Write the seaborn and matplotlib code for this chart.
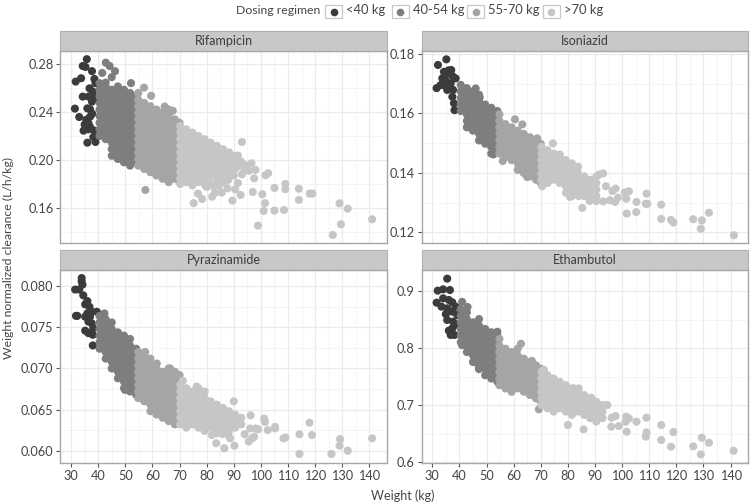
import pandas as pd
import seaborn as sns
import matplotlib.pyplot as plt
from matplotlib.patches import Rectangle
from matplotlib.lines import Line2D

drugs = ['Rifampicin', 'Isoniazid', 'Pyrazinamide', 'Ethambutol']
regimens = ['<40 kg', '40-54 kg', '55-70 kg', '>70 kg']
greys = ['#3b3b3b', '#7e7e7e', '#a5a5a5', '#c6c6c6']

# clearance values, one list per weight column
rif_columns = {
    40.5: [.22, .2255, .231, .2365, .242, .2475, .253, .2585, .264],
    42.75: [.2173, .2228, .2283, .2338, .2393, .2448, .2503, .2558, .2613, .2645],
    45: [.2035, .209, .2145, .22, .2255, .231, .2365, .242, .2475, .253, .2585],
    47.25: [.2008, .2063, .2118, .2173, .2228, .2283, .2338, .2393, .2448, .2503, .2558, .2613],
    49.5: [.198, .2035, .209, .2145, .22, .2255, .231, .2365, .242, .2475, .253, .2585],
    51.75: [.1953, .2008, .2063, .2118, .2173, .2228, .2283, .2338, .2393, .2448, .2503, .2558],
    54: [.198, .2035, .209, .2145, .22, .2255, .231, .2365, .242, .2475, .253],
    54.75: [.1953, .2008, .2063, .2118, .2173, .2228, .2283, .2338, .2393, .2448, .2503, .2558],
    57: [.1925, .198, .2035, .209, .2145, .22, .2255, .231, .2365, .242, .2475],
    59.25: [.1898, .1953, .2008, .2063, .2118, .2173, .2228, .2283, .2338, .2393, .2448],
    61.5: [.187, .1925, .198, .2035, .209, .2145, .22, .2255, .231, .2365, .242],
    63.75: [.1843, .1898, .1953, .2008, .2063, .2118, .2173, .2228, .2283, .2338, .2393],
    66: [.1815, .187, .1925, .198, .2035, .209, .2145, .22, .2255, .231, .2365, .242],
    68.25: [.1843, .1898, .1953, .2008, .2063, .2118, .2173, .2228, .2283, .2338],
    70: [.1815, .187, .1925, .198, .2035, .209, .2145, .22, .2255, .231],
    70.25: [.18, .1843, .1898, .1953, .2008, .2063, .2118, .2173, .2228, .2283],
    72.5: [.1815, .187, .1925, .198, .2035, .209, .2145, .22, .2255],
    74.75: [.1788, .1843, .1898, .1953, .2008, .2063, .2118, .2173, .2228],
    77: [.1815, .187, .1925, .198, .2035, .209, .2145, .22],
    79.25: [.1843, .1898, .1953, .2008, .2063, .2118, .2173],
    81.5: [.187, .1925, .198, .2035, .209, .2145],
    83.75: [.1843, .1898, .1953, .2008, .2063, .2118],
    86: [.187, .1925, .198, .2035, .209],
    88.25: [.1898, .1953, .2008, .2063],
    90.5: [.1925, .198, .2035],
}
rif_extra_w = [35.8, 34.3, 35.3, 37.7, 31.7, 33.7, 36.8, 34.3, 36.4, 37.7, 31.4, 37, 33, 37, 34.6, 36.4,
               36, 39, 37, 38.2, 38.6, 36, 38, 37.8, 39, 39, 35.6, 36.4, 35, 38.5,
               41.5, 42.8, 44.2, 46.2, 45, 52.1, 56.9, 59.5, 64.5, 67.5, 57.4,
               75.2, 78.3, 76.8, 82, 83, 85.5, 87.7, 79.5, 82.5, 89.5, 92.5, 91.5, 84.5,
               93, 92.7, 91.5, 96.5, 98, 97.5, 97, 102.7, 101.7, 100.5, 101.5, 101, 98.9,
               105, 105, 108.5, 109, 109, 114, 114, 118, 119, 126.5, 129, 129.5, 132, 141,
               92, 94, 95.5, 93, 90, 88, 86, 81, 84, 87, 80, 90.5, 94.5]
rif_extra_cl = [.284, .2783, .2775, .274, .2653, .2681, .2597, .2528, .2528, .2486, .2428, .2422, .2358, .236, .2244, .2306,
                .2144, .215, .2275, .219, .2675, .243, .257, .2385, .264, .252, .2335, .2255, .2295, .2245,
                .2725, .2811, .2783, .274, .269, .264, .2603, .2535, .2445, .241, .175,
                .164, .1675, .172, .1694, .1725, .1728, .1764, .179, .178, .1661, .1708, .1808, .1785,
                .215, .1986, .2036, .1972, .1917, .1847, .1733, .189, .1873, .1714, .164, .1575, .1453,
                .1578, .1767, .1583, .18, .1756, .1667, .176, .172, .172, .1375, .1639, .1464, .1594, .1506,
                .195, .1925, .191, .188, .187, .1835, .1815, .1815, .1802, .183, .1775, .1755, .1955]

inh_columns = {
    40.5: [.1608, .163, .1652, .1674, .1696],
    42.75: [.1553, .1575, .1597, .1619, .1641, .1663, .1685],
    45: [.1542, .1564, .1586, .1608, .163, .1652, .1674],
    47.25: [.1509, .1531, .1553, .1575, .1597, .1619, .1641, .1663],
    49.5: [.1498, .152, .1542, .1564, .1586, .1608, .163],
    51.75: [.1465, .1487, .1509, .1531, .1553, .1575, .1597, .1619],
    54: [.1476, .1498, .152, .1542, .1564, .1586, .1608],
    54.75: [.1465, .1487, .1509, .1531, .1553, .1575, .1597],
    57: [.1454, .1476, .1498, .152, .1542, .1564],
    59.25: [.1443, .1465, .1487, .1509, .1531, .1553],
    61.5: [.141, .1432, .1454, .1476, .1498, .152, .1542],
    63.75: [.1399, .1421, .1443, .1465, .1487, .1509, .1531],
    66: [.1388, .141, .1432, .1454, .1476, .1498, .152],
    68.25: [.1377, .1399, .1421, .1443, .1465, .1487, .1509],
    70: [.1366, .1388, .141, .1432, .1454, .1476, .1498],
    70.25: [.1377, .1399, .1421, .1443, .1465, .1487],
    72.5: [.1366, .1388, .141, .1432, .1454, .1476],
    74.75: [.1377, .1399, .1421, .1443, .1465],
    77: [.1366, .1388, .141, .1432, .1454],
    79.25: [.1333, .1355, .1377, .1399, .1421, .1443],
    81.5: [.1322, .1344, .1366, .1388, .141, .1432],
    83.75: [.1333, .1355, .1377, .1399, .1421],
    86: [.1322, .1344, .1366, .1388],
    88.25: [.1311, .1333, .1355, .1377],
    90.5: [.1322, .1344, .1366, .1388],
}
inh_extra_w = [35.2, 32.1, 31.6, 34.3, 34.3, 37, 38.6, 33.7, 35.5, 36.8, 37.7, 34.9, 35.5, 38.2, 38, 37.4, 36, 37.5, 33,
               46, 47.5, 52.5, 60.5, 63.2, 68.7, 65, 56,
               74.5, 77, 70.5, 93, 91.5, 94, 96.4, 97.6, 95.5, 93, 97.4, 98.5, 101, 102.5, 101.5,
               105.3, 109, 108.7, 109.3, 105.2, 101.7, 114.4, 114.4, 118, 118.9, 126.2, 129.4, 132, 129, 141.2,
               85.3, 80.8, 84, 88, 90.5]
inh_extra_cl = [.1782, .1763, .1685, .1695, .174, .1746, .1718, .1718, .1735, .1701, .1679, .1712, .1679, .1611, .1634, .1656, .1745, .1725, .1695,
                .1684, .1654, .1462, .158, .1563, .1516, .1386, .144,
                .1499, .1462, .1355, .1398, .1394, .1355, .1339, .1347, .1308, .1304, .1302, .1317, .1334, .1338, .1313,
                .1302, .133, .1296, .1296, .1268, .1263, .1293, .1245, .1242, .1233, .1244, .124, .1266, .1212, .119,
                .1282, .1319, .1322, .1305, .1305]

pza_columns = {
    40.5: [.0724, .0732, .074, .0748, .0756, .0764],
    42.75: [.0712, .072, .0728, .0736, .0744, .0752, .076],
    45: [.07, .0708, .0716, .0724, .0732, .074, .0748, .0756],
    47.25: [.0688, .0696, .0704, .0712, .072, .0728, .0736, .0744],
    49.5: [.0676, .0684, .0692, .07, .0708, .0716, .0724, .0732, .074],
    51.75: [.0672, .068, .0688, .0696, .0704, .0712, .072, .0728, .0736],
    54: [.0668, .0676, .0684, .0692, .07, .0708, .0716, .0724],
    54.75: [.0664, .0672, .068, .0688, .0696, .0704, .0712, .072],
    57: [.066, .0668, .0676, .0684, .0692, .07, .0708, .0716],
    59.25: [.0648, .0656, .0664, .0672, .068, .0688, .0696, .0704, .0712],
    61.5: [.0644, .0652, .066, .0668, .0676, .0684, .0692, .07],
    63.75: [.064, .0648, .0656, .0664, .0672, .068, .0688, .0696],
    66: [.0636, .0644, .0652, .066, .0668, .0676, .0684, .0692, .07],
    68.25: [.0632, .064, .0648, .0656, .0664, .0672, .068, .0688, .0696],
    70: [.0636, .0644, .0652, .066, .0668, .0676, .0684, .0692],
    70.25: [.0632, .064, .0648, .0656, .0664, .0672, .068],
    72.5: [.0628, .0636, .0644, .0652, .066, .0668, .0676],
    74.75: [.0632, .064, .0648, .0656, .0664, .0672],
    77: [.0628, .0636, .0644, .0652, .066, .0668, .0676],
    79.25: [.0624, .0632, .064, .0648, .0656, .0664, .0672],
    81.5: [.0628, .0636, .0644, .0652, .066],
    83.75: [.0624, .0632, .064, .0648, .0656],
    86: [.062, .0628, .0636, .0644, .0652],
    88.25: [.0624, .0632, .064, .0648],
    90.5: [.0628, .0636, .0644],
    92.75: [.0632, .064],
}
pza_extra_w = [33.9, 33.9, 34.2, 31.5, 33, 34.5, 36, 35.2, 36.8, 39.5, 37.6, 31.8, 32.3, 35.2, 37, 36, 36.4, 37.6, 35.2, 36.4, 38, 38, 38.2,
               42.3, 49.9, 57.3, 61.6, 66.5, 71.2, 76.3,
               90, 96.2, 101.2, 101.5, 96, 98, 99, 102.5, 105.2, 105.2, 94, 97.5, 96.7, 95.5, 108.3, 109, 114.2, 117.9, 118.8, 114.2,
               129.2, 129, 132, 126, 141, 90.2, 86.5, 83.5, 88.6, 88, 81.9, 83.7]
pza_extra_cl = [.081, .0806, .0802, .0796, .0796, .0789, .0782, .0778, .0775, .0769, .0769, .0764, .0764, .0763, .0763, .0767, .0757, .0755, .0746, .0743, .0741, .0728, .0749,
                .0767, .0674, .072, .0706, .07, .0685, .0678,
                .066, .0643, .0639, .0635, .0627, .0627, .0626, .0625, .0629, .0627, .062, .0617, .0615, .0611, .0615, .0616, .062, .0634, .0619, .0596,
                .0614, .0606, .06, .0596, .0615, .0606, .0603, .0609, .0615, .0621, .0619, .0621]

emb_columns = {
    40.5: [.8108, .8224, .834, .8456, .8572, .8688],
    42.75: [.7934, .805, .8166, .8282, .8398, .8514, .863],
    45: [.776, .7876, .7992, .8108, .8224, .834, .8456],
    47.25: [.7702, .7818, .7934, .805, .8166, .8282, .8398, .8514],
    49.5: [.7528, .7644, .776, .7876, .7992, .8108, .8224, .834],
    51.75: [.747, .7586, .7702, .7818, .7934, .805, .8166, .8282],
    54: [.7412, .7528, .7644, .776, .7876, .7992, .8108, .8224],
    54.75: [.7354, .747, .7586, .7702, .7818, .7934, .805, .8166],
    57: [.7296, .7412, .7528, .7644, .776, .7876, .7992],
    59.25: [.7238, .7354, .747, .7586, .7702, .7818, .7934],
    61.5: [.7296, .7412, .7528, .7644, .776, .7876, .7992],
    63.75: [.7238, .7354, .747, .7586, .7702, .7818],
    66: [.718, .7296, .7412, .7528, .7644, .776],
    68.25: [.7122, .7238, .7354, .747, .7586, .7702],
    70: [.7064, .718, .7296, .7412, .7528, .7644],
    70.25: [.7006, .7122, .7238, .7354, .747, .7586],
    72.5: [.6948, .7064, .718, .7296, .7412, .7528],
    74.75: [.689, .7006, .7122, .7238, .7354, .747],
    77: [.6948, .7064, .718, .7296, .7412],
    79.25: [.689, .7006, .7122, .7238, .7354],
    81.5: [.6832, .6948, .7064, .718, .7296],
    83.75: [.689, .7006, .7122, .7238],
    86: [.6832, .6948, .7064, .718],
    88.25: [.6774, .689, .7006, .7122],
    90.5: [.6716, .6832, .6948, .7064],
    92.75: [.6774, .689, .7006],
}
emb_extra_w = [35.5, 32, 34, 36.5, 31.6, 34, 36.1, 33.4, 37.4, 35.5, 37.4, 39.2, 35.5, 37.4, 36.1, 38.2, 36.8, 38.6, 37.7, 35, 38.5,
               41, 43, 54, 62.7, 66.7, 47, 47.2, 41,
               71.2, 82.2, 84, 88.6, 80, 85.8, 69.3, 94.5, 96.1, 97.6, 96, 98.8, 101.5, 102.5, 101.3, 101.7, 105.3,
               109, 109, 108.7, 114.4, 114.4, 118.9, 118, 126.2, 129.4, 132, 129, 141.1]
emb_extra_cl = [.9222, .9012, .9035, .9023, .8801, .8877, .8848, .8731, .8807, .8702, .8643, .8585, .8497, .8351, .831, .8234, .8234, .8731, .8468, .86, .8415,
                .8815, .8725, .829, .808, .778, .771, .7635, .8055,
                .762, .7298, .7298, .7134, .6654, .6578, .693, .7005, .6783, .6812, .6625, .6637, .68, .6771, .6713, .6537, .6713,
                .6783, .6526, .645, .6654, .6391, .6531, .6274, .628, .6432, .6344, .6139, .6204]

rif_ticks = [.16, .20, .24, .28]
inh_ticks = [.12, .14, .16, .18]
pza_ticks = [.060, .065, .070, .075, .080]
emb_ticks = [.6, .7, .8, .9]
weight_ticks = list(range(30, 150, 10))

columns = [rif_columns, inh_columns, pza_columns, emb_columns]
extra_w = [rif_extra_w, inh_extra_w, pza_extra_w, emb_extra_w]
extra_cl = [rif_extra_cl, inh_extra_cl, pza_extra_cl, emb_extra_cl]
all_ticks = [rif_ticks, inh_ticks, pza_ticks, emb_ticks]
tick_fmt = ['%.2f', '%.2f', '%.3f', '%.1f']
ylims = [(.1308, .2908), (.1164, .181), (.0585, .08198), (.5988, .9374)]

rows = []
for drug, cols, ew, ec in zip(drugs, columns, extra_w, extra_cl):
    for w, values in cols.items():
        rows += [(drug, w, v) for v in values]
    rows += [(drug, w, v) for w, v in zip(ew, ec)]
df = pd.DataFrame(rows, columns=['Drug', 'Weight', 'Clearance'])
df['Regimen'] = pd.cut(df['Weight'], [0, 40, 54.5, 70, 200], labels=regimens).astype(str)
df = df.sort_values('Weight', kind='stable')

W, H = 752, 504
sns.set_theme(style='whitegrid')
plt.rcParams['font.family'] = ['Lato', 'DejaVu Sans']
text_col = '#454545'

g = sns.FacetGrid(df, col='Drug', col_wrap=2, col_order=drugs, sharex=True, sharey=False, despine=False)
g.map_dataframe(sns.scatterplot, x='Weight', y='Clearance', hue='Regimen',
                hue_order=regimens, palette=greys, s=34, linewidth=0)
g.figure.set_size_inches(W / 100, H / 100)
g.figure.set_dpi(100)
g.set_titles('')
g.set_axis_labels('', '')

boxes = [(60.5, 51, 386.5, 243), (421.7, 51, 747.7, 243),
         (60.5, 270, 386.5, 463), (421.7, 270, 747.7, 463)]
for i, ax in enumerate(g.axes.flat):
    x0, y0, x1, y1 = boxes[i]
    ax.set_position([x0 / W, 1 - y1 / H, (x1 - x0) / W, (y1 - y0) / H])
    ax.set_xticks(weight_ticks)
    ax.set_xticks([t + 5 for t in weight_ticks[:-1]], minor=True)
    t = all_ticks[i]
    ax.set_yticks(t)
    ax.set_yticklabels([tick_fmt[i] % v for v in t])
    step = t[1] - t[0]
    ax.set_yticks([v + step / 2 for v in t] + [t[0] - step / 2], minor=True)
    # ticks widen the view, so the limits go last
    ax.set_xlim(26.1, 146.3)
    ax.set_ylim(*ylims[i])
    ax.grid(True, which='major', color='#ebebeb', lw=0.9)
    ax.grid(True, which='minor', color='#f2f2f2', lw=0.6)
    ax.set_axisbelow(True)
    ax.tick_params(axis='both', which='minor', length=0)
    ax.tick_params(axis='y', which='major', length=3, width=0.8, color='#555555',
                   labelsize=9.2, labelcolor=text_col, pad=2, left=True)
    ax.tick_params(axis='x', which='major', length=3 if i >= 2 else 0, width=0.8, color='#555555',
                   labelsize=9.2, labelcolor=text_col, pad=2, bottom=i >= 2, labelbottom=i >= 2)
    for s in ax.spines.values():
        s.set_color('#a8a8a8')
        s.set_linewidth(1)
    # grey strip above each panel
    strip_h = 20 / (y1 - y0)
    ax.add_patch(Rectangle((0, 1), 1, strip_h, transform=ax.transAxes, clip_on=False,
                           facecolor='#c8c8c8', edgecolor='#b0b0b0', lw=0.8))
    ax.text(0.5, 1 + strip_h / 2, drugs[i], transform=ax.transAxes, ha='center', va='center',
            fontsize=9, color='#3c3c3c')

fig = g.figure
fig.text(403 / W, 1 - 496 / H, 'Weight (kg)', ha='center', va='center', fontsize=9, color=text_col)
fig.text(8 / W, 1 - 258 / H, 'Weight normalized clearance (L/h/kg)', rotation=90, ha='center', va='center',
         fontsize=8.8, color=text_col)

# legend keys along the top
fig.text(320 / W, 1 - 10.5 / H, 'Dosing regimen', ha='right', va='center', fontsize=8.8, color=text_col)
key_x = [325, 391.7, 467, 542.7]
for x, lab, col in zip(key_x, regimens, greys):
    fig.add_artist(Rectangle((x / W, 1 - 18 / H), 17 / W, 13 / H, transform=fig.transFigure,
                             facecolor='white', edgecolor='#c8c8c8', lw=0.9))
    fig.add_artist(Line2D([(x + 8.5) / W], [1 - 11.5 / H], marker='o', ms=5.5, color=col, mew=0,
                          transform=fig.transFigure))
    fig.text((x + 21) / W, 1 - 10.5 / H, lab, ha='left', va='center', fontsize=9.4, color=text_col)

fig.savefig('out.png', dpi=100)
